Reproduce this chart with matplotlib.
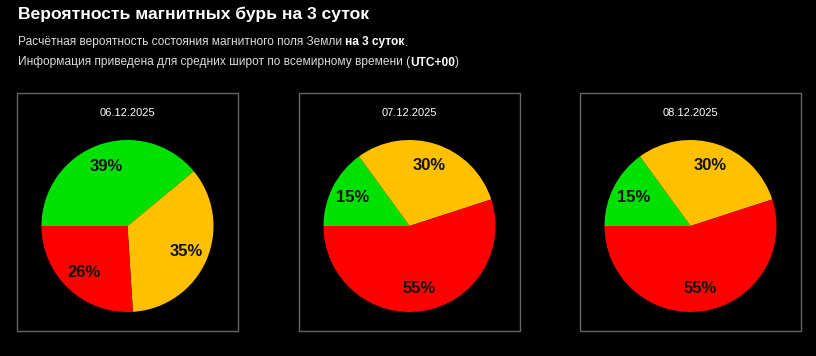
import matplotlib
matplotlib.use("Agg")
import matplotlib.pyplot as plt
from matplotlib.patches import Rectangle

plt.rcParams['font.family'] = ['Liberation Sans', 'DejaVu Sans']

# данные
dates = ["06.12.2025", "07.12.2025", "08.12.2025"]
green_vals = [39, 15, 15]
yellow_vals = [35, 30, 30]
red_vals = [26, 55, 55]
slice_colors = ["#00e100", "#ffc000", "#ff0000"]

title = "Вероятность магнитных бурь на 3 суток"
line1 = ["Расчётная вероятность состояния магнитного поля Земли ", "на 3 суток", "."]
line2 = ["Информация приведена для средних широт по всемирному времени (", "UTC+00", ")"]

W, H = 816, 356
fig = plt.figure(figsize=(W / 100, H / 100), dpi=100)
fig.patch.set_facecolor("#000000")


def px(x, y):
    # пиксели сверху-слева -> координаты фигуры
    return x / W, 1 - y / H


fig.text(*px(18, 14), title, color="white", fontsize=12.6, fontweight="bold",
         va="center", ha="left")

renderer = fig.canvas.get_renderer()


def mixed_line(parts, y):
    # y - базовая линия строки
    x = 18
    for i, part in enumerate(parts):
        bold = (i == 1)
        t = fig.text(*px(x, y), part, fontsize=8.6,
                     color="white" if bold else "#dcdcdc",
                     fontweight="bold" if bold else "normal",
                     va="baseline", ha="left")
        bb = t.get_window_extent(renderer=renderer)
        x += bb.width


mixed_line(line1, 45.5)
mixed_line(line2, 65.5)

box_left = [17, 299, 580]
box_w, box_top, box_bottom = 221, 93, 331
pie_cy, pie_r = 226, 86

for i, d in enumerate(dates):
    x0 = box_left[i]
    fig.patches.append(Rectangle(px(x0, box_bottom), box_w / W, (box_bottom - box_top) / H,
                                 transform=fig.transFigure, fill=False,
                                 edgecolor="#666666", linewidth=1))
    cx = x0 + box_w / 2
    fig.text(*px(cx, 113), d, color="white", fontsize=8, ha="center", va="center")

    ax = fig.add_axes([(cx - pie_r) / W, (H - pie_cy - pie_r) / H, 2 * pie_r / W, 2 * pie_r / H])
    vals = [green_vals[i], yellow_vals[i], red_vals[i]]
    wedges, texts, autotexts = ax.pie(vals, colors=slice_colors, startangle=180,
                                      counterclock=False, radius=1,
                                      autopct=lambda p: f"{round(p)}%",
                                      pctdistance=0.74,
                                      wedgeprops=dict(linewidth=0))
    for t in autotexts:
        t.set_fontsize(12)
        t.set_fontweight("bold")
        t.set_color("#111111")
    ax.set_xlim(-1, 1)
    ax.set_ylim(-1, 1)
    ax.set_aspect("equal")
    ax.axis("off")

fig.savefig("out.png", dpi=100, facecolor=fig.get_facecolor())
